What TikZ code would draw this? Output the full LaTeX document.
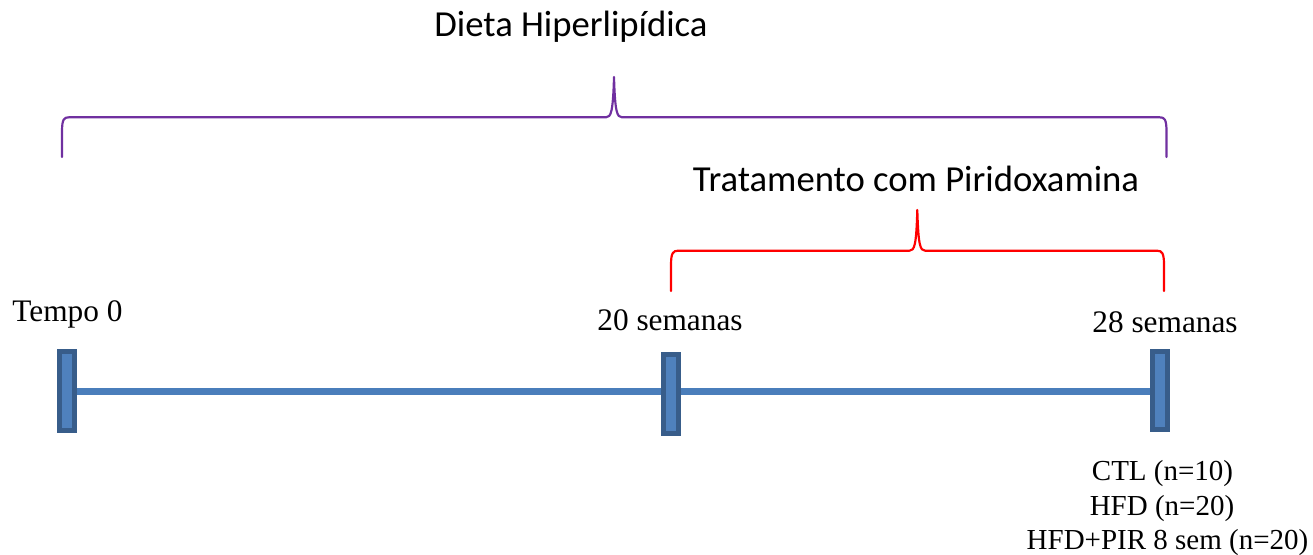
\documentclass[tikz,border=0pt]{standalone}
\usepackage{fontspec}
\setmainfont{Liberation Serif}
\newfontfamily\calib{Carlito}
\definecolor{mfill}{HTML}{4F81BD}
\definecolor{mborder}{HTML}{385D8A}
\definecolor{tline}{HTML}{4A7EBB}
\definecolor{bpurple}{HTML}{7030A0}
\definecolor{bred}{HTML}{FF0000}
\tikzset{
  marker/.style={draw=mborder, fill=mfill, line width=3pt, rectangle, inner sep=0pt,
    minimum width=9pt, minimum height=47.2pt},
  serlabel/.style={anchor=base, inner sep=0pt, font=\fontsize{18.8pt}{22pt}\selectfont},
  grouplabel/.style={anchor=base, inner sep=0pt, font=\fontsize{17.4pt}{21pt}\selectfont},
  sanslabel/.style={anchor=base, inner sep=0pt, font=\calib\fontsize{22pt}{26pt}\selectfont},
  timeline/.style={draw=tline, line width=4.2pt},
  bracepath/.style={line width=1.3pt, line cap=round, line join=round}
}
\begin{document}
\begin{tikzpicture}[x=0.6pt, y=-0.6pt]
\useasboundingbox (0,0) rectangle (1313,554);
% timeline segments (drawn first, markers on top)
\coordinate (l0) at (66.7,391);
\coordinate (l1) at (671.2,391);
\coordinate (l2) at (1160.3,391);
\draw[timeline] (l0) -- (l1) -- (l2);
% markers
\node[marker] (m0) at (66.7,391) {};
\node[marker] (m1) at (671.2,394.3) {};
\node[marker] (m2) at (1160.3,390.5) {};
% labels
\node[serlabel] (t0) at (67.5,321.7) {Tempo 0};
\node[serlabel] (t20) at (670,330) {20 semanas};
\node[serlabel] (t28) at (1165,332) {28 semanas};
\node[grouplabel] (g1) at (1162.5,480) {CTL (n=10)};
\node[grouplabel] (g2) at (1162,515.5) {HFD (n=20)};
\node[grouplabel] (g3) at (1167.5,549.5) {HFD+PIR 8 sem (n=20)};
\node[sanslabel] (diet) at (571,37) {Dieta Hiperlipídica};
\node[sanslabel] (trat) at (916,191.7) {Tratamento com Piridoxamina};
% purple brace
\coordinate (pL) at (62,157);
\coordinate (pT) at (614,77);
\coordinate (pR) at (1166.5,157);
\draw[bracepath, draw=bpurple] (pL) -- (62,132) .. controls (62,119) and (64,117.3) .. (69,117.3)
  -- (606,117.3) .. controls (611,117.3) and (613,112) .. (pT)
  .. controls (615,112) and (617,117.3) .. (622,117.3)
  -- (1159.5,117.3) .. controls (1164.5,117.3) and (1166.5,119) .. (1166.5,132) -- (pR);
% red brace
\coordinate (rL) at (671,291);
\coordinate (rT) at (917.3,210);
\coordinate (rR) at (1164,291);
\draw[bracepath, draw=bred] (rL) -- (671,265) .. controls (671,253) and (673,250.7) .. (678,250.7)
  -- (909.5,250.7) .. controls (914.5,250.7) and (916.3,245) .. (rT)
  .. controls (918.3,245) and (920.1,250.7) .. (925.1,250.7)
  -- (1157,250.7) .. controls (1162,250.7) and (1164,253) .. (1164,265) -- (rR);
\end{tikzpicture}
\end{document}
